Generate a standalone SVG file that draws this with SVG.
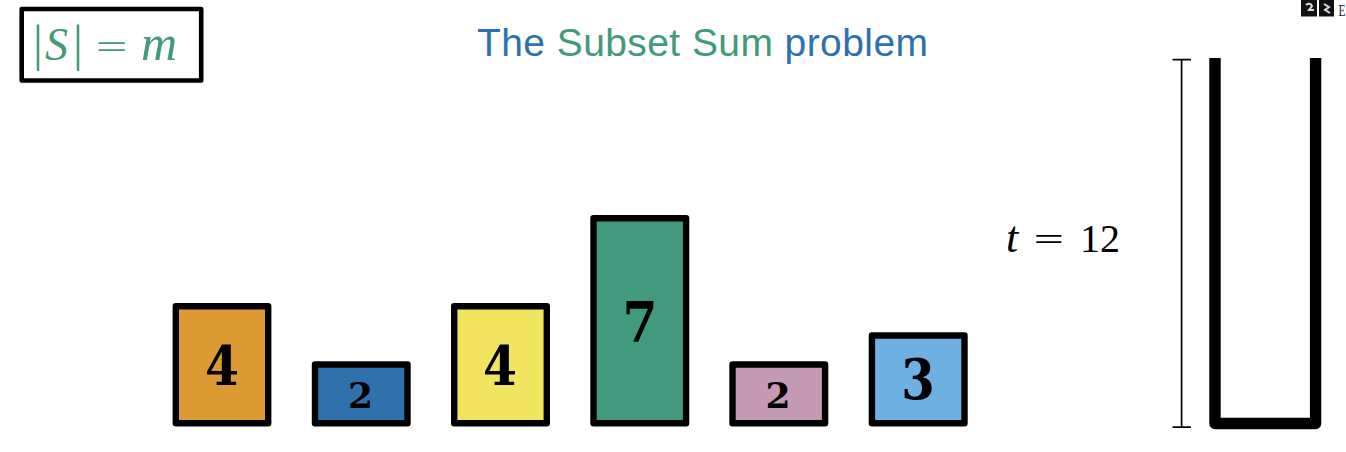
<svg xmlns="http://www.w3.org/2000/svg" width="1346" height="452" viewBox="0 0 1346 452">
<style>
.box{stroke:#000;stroke-width:6.4;stroke-linejoin:round}
.num{font-family:"DejaVu Serif","Liberation Serif",serif;font-weight:700;text-anchor:middle;fill:#000}
.math{font-family:"Liberation Serif","DejaVu Serif",serif}
.eq{font-family:"DejaVu Sans","Liberation Sans",sans-serif;font-weight:200}
.title{font-family:"Liberation Sans",Arial,sans-serif;font-size:39px}
.blue{fill:#2f71ad}.green{fill:#429a78}
</style>
<rect width="1346" height="452" fill="#fff"/>
<g id="size-label">
<rect x="21.7" y="9" width="179.5" height="71.5" fill="#fff" stroke="#000" stroke-width="4.6" stroke-linejoin="round"/>
<text class="math" y="60" font-size="46" fill="#429a78"><tspan x="33" font-size="50">|</tspan><tspan x="45" font-style="italic">S</tspan><tspan x="73" font-size="50">|</tspan><tspan x="94" class="eq" font-size="42">=</tspan><tspan x="141" font-style="italic" font-size="50">m</tspan></text>
</g>
<g id="title"><text class="title" x="477" y="56" textLength="451" lengthAdjust="spacing"><tspan class="blue">The </tspan><tspan class="green">Subset Sum </tspan><tspan class="blue">problem</tspan></text></g>
<g id="item-1"><rect class="box" x="175.8" y="306.3" width="92.4" height="117" fill="#dd9a33"/><text class="num" x="222" y="385" font-size="55" textLength="34" lengthAdjust="spacingAndGlyphs">4</text></g>
<g id="item-2"><rect class="box" x="315" y="364.5" width="92.5" height="58.8" fill="#2f71ad"/><text class="num" x="360.5" y="408" font-size="36">2</text></g>
<g id="item-3"><rect class="box" x="454.2" y="306.3" width="92.6" height="117" fill="#f1e55f"/><text class="num" x="500" y="385" font-size="55" textLength="34" lengthAdjust="spacingAndGlyphs">4</text></g>
<g id="item-4"><rect class="box" x="593.5" y="218.2" width="92.6" height="205.1" fill="#429a7e"/><text class="num" x="640" y="342" font-size="56" textLength="35" lengthAdjust="spacingAndGlyphs">7</text></g>
<g id="item-5"><rect class="box" x="732.5" y="364.5" width="92.6" height="58.8" fill="#c59ab5"/><text class="num" x="778" y="408" font-size="36">2</text></g>
<g id="item-6"><rect class="box" x="871.9" y="335.5" width="92.6" height="87.8" fill="#6eb0e2"/><text class="num" x="918" y="399" font-size="56" textLength="33.5" lengthAdjust="spacingAndGlyphs">3</text></g>
<g id="target-label"><text class="math" y="252" font-size="40" fill="#000"><tspan x="1006" font-style="italic" font-size="44">t</tspan><tspan x="1032" class="eq" font-size="40">=</tspan><tspan x="1080">12</tspan></text></g>
<g id="connectors">
<path d="M1172.5 59.7H1191M1181.6 59.7V427M1172.5 427.2H1191" fill="none" stroke="#000" stroke-width="1.7"/>
</g>
<g id="container"><path d="M1215 58V423.5H1315.6V58" fill="none" stroke="#000" stroke-width="11.4" stroke-linejoin="round"/></g>
<g id="corner-mark">
<rect x="1301" y="0" width="16" height="16.5" fill="#111"/><rect x="1319" y="0" width="15" height="16.5" fill="#111"/>
<path d="M1306 5q4-3 6 1l-3 4h5M1324 4l5 3-4 3 5 3" fill="none" stroke="#ddd" stroke-width="2"/>
<text class="math" x="1338.5" y="16" font-size="16" textLength="7" lengthAdjust="spacingAndGlyphs" fill="#222">E</text>
</g>
</svg>
